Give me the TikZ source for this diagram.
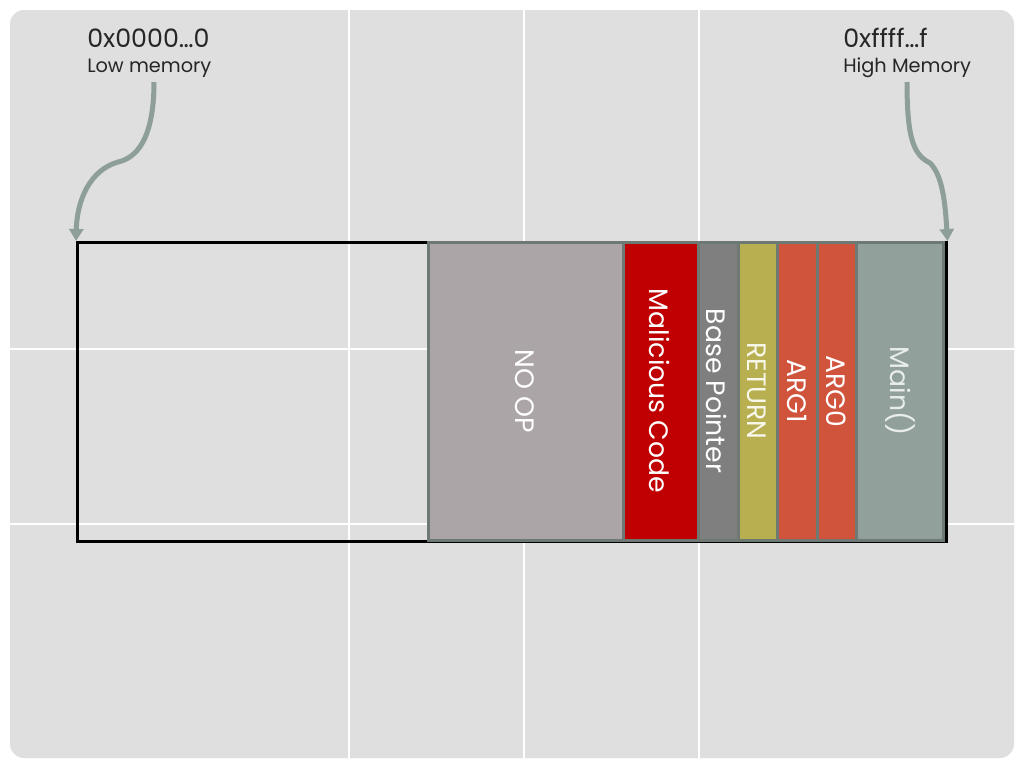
\documentclass[tikz,border=0pt]{standalone}
\usepackage{fontspec}
\setmainfont{Poppins}
\usetikzlibrary{arrows.meta}
\definecolor{slidebg}{RGB}{223,223,223}
\definecolor{cellline}{RGB}{110,121,116}
\definecolor{nopfill}{RGB}{172,165,167}
\definecolor{evilfill}{RGB}{192,0,0}
\definecolor{bpfill}{RGB}{127,127,127}
\definecolor{retfill}{RGB}{184,176,80}
\definecolor{argfill}{RGB}{208,84,60}
\definecolor{mainfill}{RGB}{145,160,154}
\definecolor{arrowgray}{RGB}{142,158,152}
\definecolor{labeltext}{RGB}{38,38,38}
\tikzset{
  cell/.style={draw=cellline, line width=2.25pt},
  celltext/.style={rotate=-90, text=white, font=\fontsize{20}{24}\selectfont, inner sep=0pt},
  addr/.style={anchor=base west, text=labeltext, font=\fontsize{19}{22}\selectfont, inner sep=0pt},
  note/.style={anchor=base west, text=labeltext, font=\fontsize{14.5}{17}\selectfont, inner sep=0pt},
  frame/.style={draw=black, line width=1.9pt, inner sep=0pt, anchor=north west},
  memarrow/.style={draw=arrowgray, line width=3.75pt, -{Triangle[width=10.5pt,length=9pt]}},
  gridline/.style={draw=white, line width=1pt}
}
\begin{document}
\begin{tikzpicture}[x=0.75pt,y=0.75pt,yscale=-1,xscale=1]
\useasboundingbox (0,0) rectangle (1024,768);
\fill[white] (0,0) rectangle (1024,768);
%Slide background with grid
\fill[slidebg, rounded corners=10.5pt] (10,10) rectangle (1014,758);
\begin{scope}
  \clip[rounded corners=10.5pt] (10,10) rectangle (1014,758);
  \foreach \gx in {349,524,699}
    \draw[gridline] (\gx,10) -- (\gx,758);
  \foreach \gy in {349,524}
    \draw[gridline] (10,\gy) -- (1014,\gy);
\end{scope}
%Memory frame
\node[frame, minimum width=651.75pt, minimum height=224.25pt] (mem) at (76,241) {};
%Stack cells
\draw[cell, fill=nopfill] (428,242) rectangle (623,540);
\draw[cell, fill=evilfill] (623,242) rectangle (698,540);
\draw[cell, fill=bpfill] (698,242) rectangle (738,540);
\draw[cell, fill=retfill] (738,242) rectangle (777,540);
\draw[cell, fill=argfill] (777,242) rectangle (817,540);
\draw[cell, fill=argfill] (817,242) rectangle (856,540);
\draw[cell, fill=mainfill] (856,242) rectangle (943,540);
% Text Node
\node[celltext] (noop) at (525,391) {NO OP};
\node[celltext] (evil) at (660,391) {Malicious Code};
\node[celltext] (basept) at (717,391) {Base Pointer};
\node[celltext, text={rgb,255:red,248;green,247;blue,235}] (ret) at (757,391) {RETURN};
\node[celltext] (argone) at (797,391) {ARG1};
\node[celltext] (argzero) at (836,391) {ARG0};
\node[celltext, text={rgb,255:red,232;green,236;blue,234}] (mainfn) at (900,391) {Main()};
%Address labels
\node[addr] (lowaddr) at (87,47) {0x0000…0};
\node[note] (lowdesc) at (87,72) {Low memory};
\node[addr] (highaddr) at (843,47) {0xffff…f};
\node[note] (highdesc) at (843,72) {High Memory};
%Arrows
\coordinate (lowstart) at (154,82);
\coordinate (lowbend) at (118,162);
\coordinate (highstart) at (907,82);
\coordinate (highbend) at (930,163);
\draw[memarrow] (lowstart) .. controls (154,140) and (136,158) .. (lowbend) .. controls (90,170) and (77,200) .. (mem.north west);
\draw[memarrow] (highstart) .. controls (907,140) and (914,155) .. (highbend) .. controls (942,175) and (945,200) .. (mem.north east);
\end{tikzpicture}
\end{document}
